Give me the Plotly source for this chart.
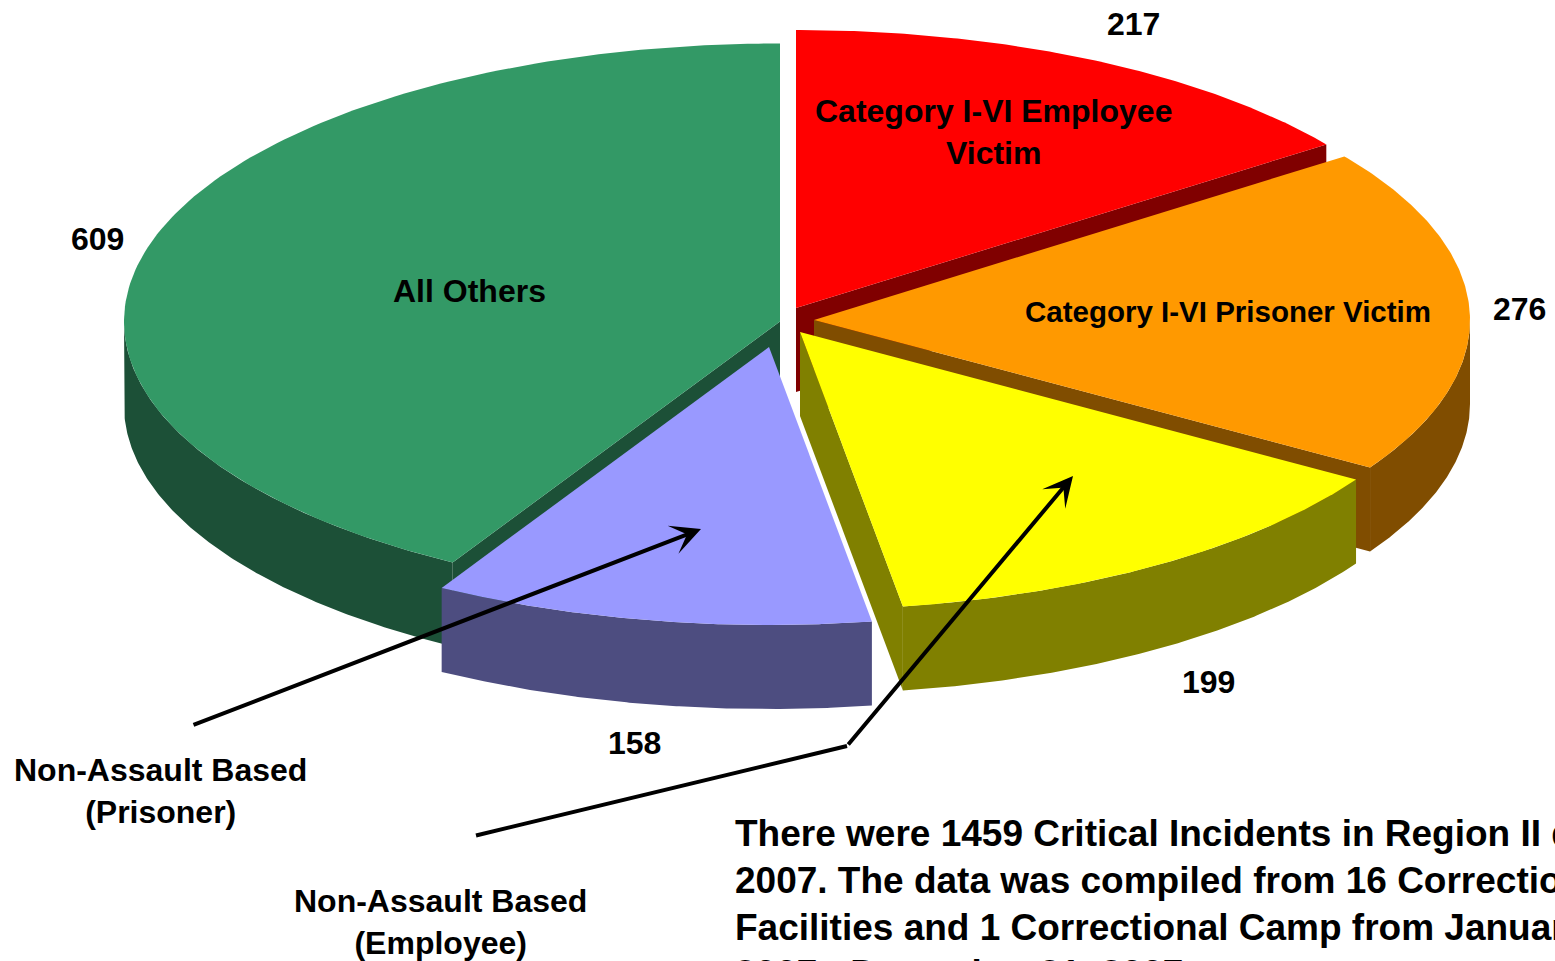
import numpy as np
import plotly.graph_objects as go

# ---- data ----
categories = ["Category I-VI Employee Victim", "Category I-VI Prisoner Victim",
              "Non-Assault Based (Employee)", "Non-Assault Based (Prisoner)", "All Others"]
values = [217, 276, 199, 158, 609]
value_labels = ["217", "276", "199", "158", "609"]

# ---- styling / layout constants ----
top_colors = ["#FF0000", "#FF9900", "#FFFF00", "#9999FF", "#339966"]
side_colors = ["#800000", "#804D00", "#808000", "#4D4D80", "#1C5037"]
apex = [(796, 308), (814, 320), (800, 332), (769, 347), (780, 321.5)]
RX, RY, DEPTH = 656, 278, 84
VIEW_SHIFT = [0.007, 0.007, 0.004, 0.0035]  # small clockwise offsets of slice boundaries
FONT = "Liberation Sans, Arial, sans-serif"

angles = np.cumsum([0] + values) / sum(values) * 2 * np.pi
angles[1:-1] += VIEW_SHIFT


def arc(i, a0, a1, dz=0.0):
    t = np.linspace(a0, a1, 160)
    return apex[i][0] + RX * np.sin(t), apex[i][1] - RY * np.cos(t) + dz


fig = go.Figure()


def poly(xs, ys, color):
    fig.add_trace(go.Scatter(x=list(xs), y=list(ys), mode="lines", fill="toself",
                             fillcolor=color, line=dict(width=0, color=color),
                             hoverinfo="skip", showlegend=False))


def cut_wall(i, a):
    ax, ay = apex[i]
    ex, ey = ax + RX * np.sin(a), ay - RY * np.cos(a)
    poly([ax, ex, ex, ax, ax], [ay, ey, ey + DEPTH, ay + DEPTH, ay], side_colors[i])


def rim(i, a0, a1):
    x0, y0 = arc(i, a0, a1)
    x1, y1 = arc(i, a1, a0, DEPTH)
    poly(np.r_[x0, x1, x0[0]], np.r_[y0, y1, y0[0]], side_colors[i])


def top(i):
    x, y = arc(i, angles[i], angles[i + 1])
    poly(np.r_[apex[i][0], x, apex[i][0]], np.r_[apex[i][1], y, apex[i][1]], top_colors[i])


# painter's order, back to front
cut_wall(0, angles[1])
top(0)
cut_wall(4, angles[4])
rim(4, angles[4], 1.5 * np.pi)
top(4)
cut_wall(1, angles[2])
rim(1, np.pi / 2, angles[2])
top(1)
cut_wall(2, angles[3])
rim(2, angles[2], angles[3])
top(2)
rim(3, angles[3], angles[4])
top(3)

# ---- arrows ----
fig.add_trace(go.Scatter(x=[476, 847], y=[835.5, 746], mode="lines",
                         line=dict(color="black", width=4),
                         hoverinfo="skip", showlegend=False))
for (x0, y0, x1, y1) in [(192, 725.5, 701, 529), (847, 746, 1073, 476)]:
    fig.add_annotation(x=x1, y=y1, ax=x0, ay=y0, xref="x", yref="y", axref="x", ayref="y",
                       text="", showarrow=True, arrowhead=3, arrowsize=1.25,
                       arrowwidth=4, arrowcolor="black", standoff=0)


def label(x, y, text, size, anchor="center", align="center"):
    fig.add_annotation(x=x, y=y, text=text, showarrow=False, xref="x", yref="y",
                       xanchor=anchor, yanchor="middle", align=align,
                       font=dict(family=FONT, size=size, color="black"))


# value labels
vpos = [(1133.5, 24), (1519.5, 309), (1208.5, 682), (634.5, 743), (97, 239)]
for (x, y), s in zip(vpos, value_labels):
    label(x, y, f"<b>{s}</b>", 32)

# category labels
label(993.5, 131.5, "<b>Category I-VI Employee<br>Victim</b>", 32)
label(1228, 311.5, "<b>Category I-VI Prisoner Victim</b>", 29.5)
label(469.5, 291, "<b>All Others</b>", 32)
label(160, 791, "<b>Non-Assault Based<br>(Prisoner)</b>", 32)
label(440, 921.5, "<b>Non-Assault Based<br>(Employee)</b>", 32)

note_lines = ["There were 1459 Critical Incidents in Region II during",
              "2007. The data was compiled from 16 Correctional",
              "Facilities and 1 Correctional Camp from January 1,",
              "2007 - December 31, 2007."]
note_tops = [811, 858, 905, 951]
for ytop, line in zip(note_tops, note_lines):
    fig.add_annotation(x=732.5, y=ytop, text=f"<b>{line}</b>",
                       showarrow=False, xref="x", yref="y", xanchor="left", yanchor="top",
                       align="left", font=dict(family=FONT, size=37, color="black"))

fig.update_layout(width=1555, height=961, margin=dict(l=0, r=0, t=0, b=0),
                  paper_bgcolor="white", plot_bgcolor="white", showlegend=False,
                  xaxis=dict(range=[0, 1555], visible=False, fixedrange=True),
                  yaxis=dict(range=[961, 0], visible=False, fixedrange=True))

fig.write_html("out.html", config={"displayModeBar": False},
               post_script="document.body.style.margin='0';document.body.style.overflow='hidden';")
